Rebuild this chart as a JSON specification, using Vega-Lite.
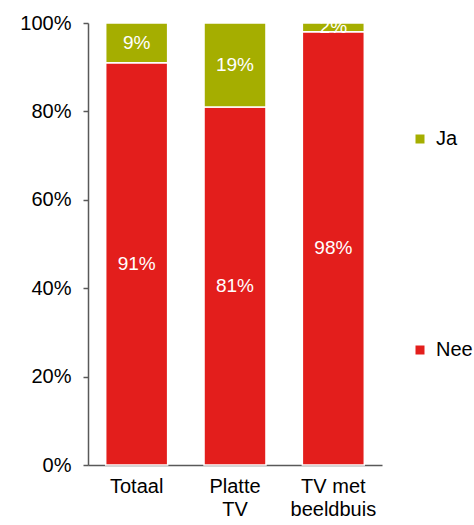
{
  "$schema": "https://vega.github.io/schema/vega-lite/v6.json",
  "width": 294,
  "height": 442,
  "autosize": "none",
  "padding": {"left": 88, "top": 23, "right": 92, "bottom": 60},
  "background": "white",
  "config": {"view": {"stroke": null}, "font": "Liberation Sans"},
  "data": {"values": [
    {"cat": "Totaal", "antwoord": "Nee", "pct": 0.91},
    {"cat": "Totaal", "antwoord": "Ja", "pct": 0.09},
    {"cat": "Platte TV", "antwoord": "Nee", "pct": 0.81},
    {"cat": "Platte TV", "antwoord": "Ja", "pct": 0.19},
    {"cat": "TV met beeldbuis", "antwoord": "Nee", "pct": 0.98},
    {"cat": "TV met beeldbuis", "antwoord": "Ja", "pct": 0.02}
  ]},
  "transform": [
    {"calculate": "datum.antwoord == 'Nee' ? 0 : 1", "as": "ord"},
    {"stack": "pct", "groupby": ["cat"], "sort": [{"field": "ord", "order": "ascending"}], "as": ["y0", "y1"]},
    {"calculate": "(datum.y0 + datum.y1) / 2", "as": "ymid"}
  ],
  "encoding": {
    "x": {
      "field": "cat", "type": "nominal", "sort": ["Totaal", "Platte TV", "TV met beeldbuis"],
      "scale": {"paddingInner": 0.37, "paddingOuter": 0.18},
      "axis": {
        "title": null, "labelAngle": 0, "ticks": false, "domainColor": "#595959", "domainWidth": 1.5,
        "labelFontSize": 20, "labelColor": "#000000", "labelPadding": 11, "labelLineHeight": 23,
        "labelExpr": "datum.value == 'Platte TV' ? ['Platte', 'TV'] : datum.value == 'TV met beeldbuis' ? ['TV met', 'beeldbuis'] : datum.value"
      }
    }
  },
  "layer": [
    {
      "mark": {"type": "bar", "stroke": "white", "strokeWidth": 1.5},
      "encoding": {
        "y": {"field": "y0", "type": "quantitative", "scale": {"domain": [0, 1]},
          "axis": {"title": null, "format": ".0%", "values": [0, 0.2, 0.4, 0.6, 0.8, 1], "grid": false,
            "domainColor": "#595959", "domainWidth": 1.5, "tickColor": "#595959", "tickWidth": 1.5, "tickSize": 5,
            "labelFontSize": 20, "labelColor": "#000000", "labelPadding": 12}},
        "y2": {"field": "y1"},
        "color": {"field": "antwoord", "type": "nominal",
          "scale": {"domain": ["Ja", "Nee"], "range": ["#A5AE00", "#E31E1C"]},
          "legend": {"title": null, "orient": "none", "legendX": 322, "legendY": 106,
            "symbolType": "square", "symbolSize": 81, "symbolStrokeWidth": 0, "labelFontSize": 20,
            "labelColor": "#000000", "rowPadding": 191, "labelOffset": 6}}
      }
    },
    {
      "mark": {"type": "text", "color": "white", "fontSize": 19, "baseline": "middle", "align": "center"},
      "encoding": {
        "y": {"field": "ymid", "type": "quantitative"},
        "text": {"field": "pct", "type": "quantitative", "format": ".0%"}
      }
    }
  ]
}
